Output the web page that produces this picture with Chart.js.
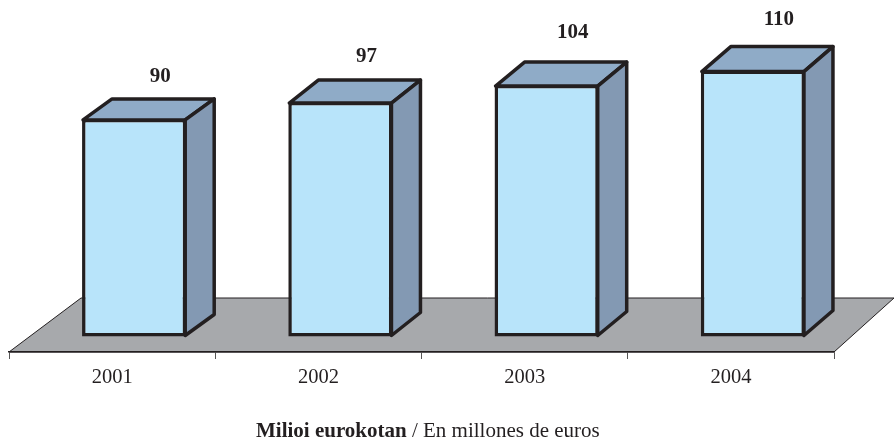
<!DOCTYPE html>
<html lang="en">
<head>
    <meta charset="UTF-8">
    <title>Milioi eurokotan</title>
    <script src="https://cdn.jsdelivr.net/npm/chart.js"></script>
    <style>
        body { margin: 0; background: #fff; }
        canvas { display: block; }
    </style>
</head>
<body>
    <canvas id="chart" width="894" height="441"></canvas>

    <script>
    const years = ['2001', '2002', '2003', '2004'];
    const amounts = [90, 97, 104, 110];

    const ink = '#231f20';
    const serif = '"Liberation Serif", serif';

    // the picture is a fake 3D one: bars stand in the middle of the floor
    const barShift = { x: 22, y: -15.5 };
    const depthX = 29;
    const depthY = [21, 23, 24, 25];
    const labelGap = [21.5, 22.5, 28.5, 26];

    const floor3d = {
        id: 'floor3d',
        beforeDraw(chart) {
            const { ctx, chartArea: a } = chart;
            const farY = a.bottom - 54;
            ctx.save();
            ctx.beginPath();
            ctx.moveTo(a.left, a.bottom);
            ctx.lineTo(a.left + 72, farY);
            ctx.lineTo(a.right + 60, farY);
            ctx.lineTo(a.right, a.bottom);
            ctx.closePath();
            ctx.fillStyle = '#a7a9ac';
            ctx.fill();
            ctx.strokeStyle = ink;
            ctx.lineWidth = 1;
            ctx.stroke();
            ctx.restore();
        }
    };

    const bars3d = {
        id: 'bars3d',
        beforeDatasetDraw(chart, args) {
            const ctx = chart.ctx;
            ctx.save();
            ctx.translate(barShift.x, barShift.y);
            ctx.lineWidth = 3.5;
            ctx.lineJoin = 'round';
            ctx.strokeStyle = ink;
            args.meta.data.forEach((bar, i) => {
                const left = bar.x - bar.width / 2;
                const right = bar.x + bar.width / 2;
                const dy = depthY[i];
                // top face
                ctx.beginPath();
                ctx.moveTo(left + 1, bar.y + 1);
                ctx.lineTo(left + depthX + 1, bar.y - dy + 1);
                ctx.lineTo(right + depthX - 1, bar.y - dy + 1);
                ctx.lineTo(right - 1, bar.y + 1);
                ctx.closePath();
                ctx.fillStyle = '#8fabc7';
                ctx.fill();
                ctx.stroke();
                // side face
                ctx.beginPath();
                ctx.moveTo(right - 1, bar.y + 1);
                ctx.lineTo(right + depthX - 1, bar.y - dy + 1);
                ctx.lineTo(right + depthX - 1, bar.base - dy - 1);
                ctx.lineTo(right - 1, bar.base - 1);
                ctx.closePath();
                ctx.fillStyle = '#8399b3';
                ctx.fill();
                ctx.stroke();
            });
        },
        afterDatasetDraw(chart, args) {
            const ctx = chart.ctx;
            // value labels, still inside the translate from above
            ctx.fillStyle = ink;
            ctx.font = 'bold 21px ' + serif;
            ctx.textAlign = 'center';
            ctx.textBaseline = 'middle';
            args.meta.data.forEach((bar, i) => {
                ctx.fillText(amounts[i], bar.x + 26, bar.y - depthY[i] - labelGap[i]);
            });
            ctx.restore();
        }
    };

    const caption = {
        id: 'caption',
        afterDraw(chart) {
            const ctx = chart.ctx;
            const bold = 'Milioi eurokotan';
            const rest = ' / En millones de euros';
            ctx.save();
            ctx.fillStyle = ink;
            ctx.textBaseline = 'alphabetic';
            ctx.textAlign = 'left';
            ctx.font = 'bold 21px ' + serif;
            const boldWidth = ctx.measureText(bold).width;
            ctx.fillText(bold, 256, 437);
            ctx.font = '21px ' + serif;
            ctx.fillText(rest, 256 + boldWidth, 437);
            ctx.restore();
        }
    };

    new Chart(document.getElementById('chart'), {
        type: 'bar',
        data: {
            labels: years,
            datasets: [{
                data: amounts,
                backgroundColor: '#b8e4fa',
                borderColor: ink,
                borderWidth: 3.5,
                borderSkipped: false,
                barPercentage: 1,
                categoryPercentage: 0.505,
                clip: false
            }]
        },
        options: {
            responsive: false,
            animation: false,
            layout: { padding: { left: 9, right: 60, top: 16, bottom: 0 } },
            plugins: {
                legend: { display: false },
                tooltip: { enabled: false }
            },
            scales: {
                x: {
                    afterFit: scale => { scale.height = 89; },
                    border: { color: ink, width: 1.5 },
                    grid: { drawOnChartArea: false, tickLength: 7, color: '#555' },
                    ticks: {
                        color: ink,
                        padding: 6,
                        maxRotation: 0,
                        font: { family: serif, size: 20.5 }
                    }
                },
                y: { display: false, min: 0, max: 139 }
            }
        },
        plugins: [floor3d, bars3d, caption]
    });
    </script>
</body>
</html>
